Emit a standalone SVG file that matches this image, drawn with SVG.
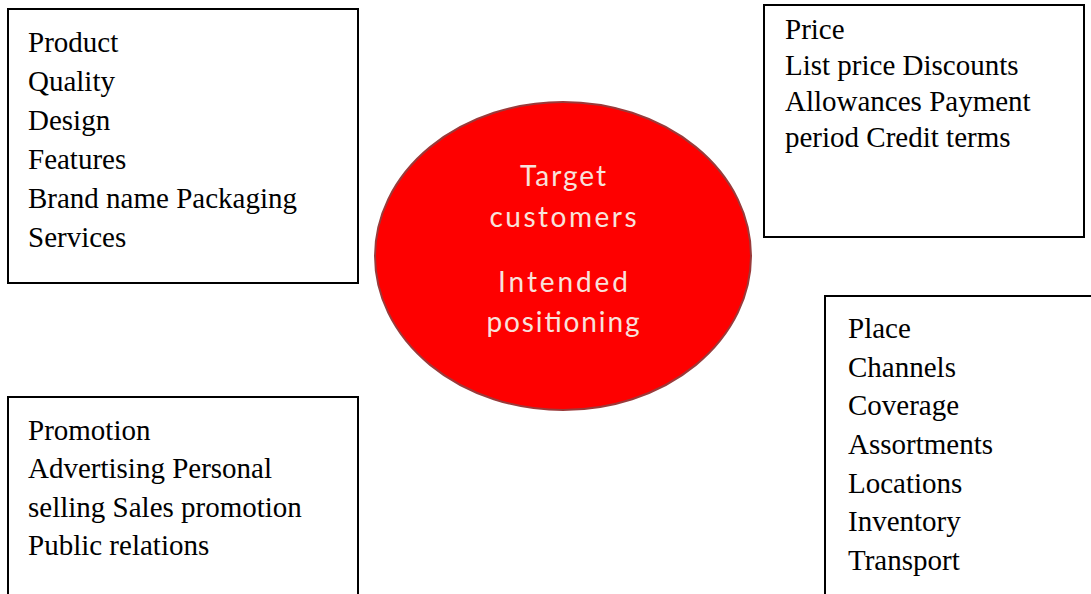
<svg xmlns="http://www.w3.org/2000/svg" width="1091" height="594" viewBox="0 0 1091 594">
  <style>
    .box { fill: #ffffff; stroke: #000000; stroke-width: 2; }
    .t { font-family: "Liberation Serif", "Times New Roman", serif; font-size: 29px; fill: #000000; }
    .c { font-family: Lato, "Open Sans", sans-serif; font-size: 28px; fill: #f8e2dc; text-anchor: middle; }
  </style>
  <rect width="1091" height="594" fill="#ffffff"/>
  <g id="connectors"></g>
  <g id="product">
    <rect class="box" x="8" y="9" width="350" height="274"/>
    <text class="t" x="28" y="52">Product</text>
    <text class="t" x="28" y="91">Quality</text>
    <text class="t" x="28" y="130">Design</text>
    <text class="t" x="28" y="169">Features</text>
    <text class="t" x="28" y="208">Brand name Packaging</text>
    <text class="t" x="28" y="247">Services</text>
  </g>
  <g id="price">
    <rect class="box" x="764" y="5" width="320" height="232"/>
    <text class="t" x="785" y="39">Price</text>
    <text class="t" x="785" y="75">List price Discounts</text>
    <text class="t" x="785" y="111">Allowances Payment</text>
    <text class="t" x="785" y="147">period Credit terms</text>
  </g>
  <g id="target">
    <ellipse cx="563" cy="256" rx="188" ry="154" fill="#fe0000" stroke="#9a3a3a" stroke-width="2"/>
    <text class="c" x="563" y="186" textLength="86" lengthAdjust="spacing">Target</text>
    <text class="c" x="563" y="227" textLength="147" lengthAdjust="spacing">customers</text>
    <text class="c" x="563" y="292" textLength="130" lengthAdjust="spacing">Intended</text>
    <text class="c" x="563" y="332" textLength="153" lengthAdjust="spacing">positioning</text>
  </g>
  <g id="place">
    <rect class="box" x="825" y="296" width="300" height="340"/>
    <text class="t" x="848" y="338">Place</text>
    <text class="t" x="848" y="377">Channels</text>
    <text class="t" x="848" y="415">Coverage</text>
    <text class="t" x="848" y="454">Assortments</text>
    <text class="t" x="848" y="493">Locations</text>
    <text class="t" x="848" y="531">Inventory</text>
    <text class="t" x="848" y="570">Transport</text>
  </g>
  <g id="promotion">
    <rect class="box" x="8" y="397" width="350" height="240"/>
    <text class="t" x="28" y="440">Promotion</text>
    <text class="t" x="28" y="478">Advertising Personal</text>
    <text class="t" x="28" y="517">selling Sales promotion</text>
    <text class="t" x="28" y="555">Public relations</text>
  </g>
</svg>
